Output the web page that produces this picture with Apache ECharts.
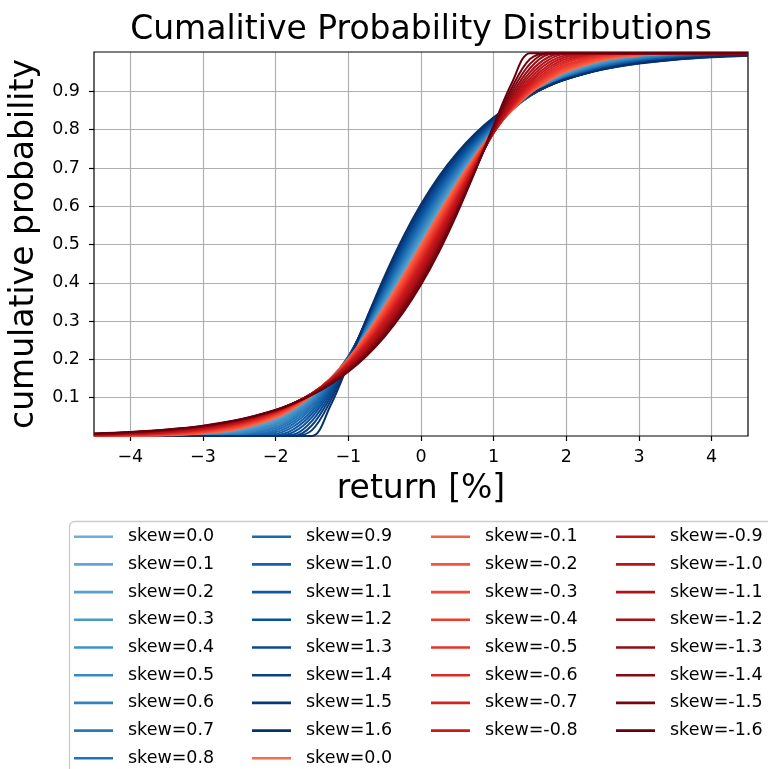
<!DOCTYPE html>
<html>
<head>
<meta charset="utf-8">
<title>Cumalitive Probability Distributions</title>
<script src="https://cdn.jsdelivr.net/npm/echarts@6/dist/echarts.min.js"></script>
<style>
  html, body { margin: 0; padding: 0; background: #fff; }
  #chart { width: 768px; height: 769px; }
</style>
</head>
<body>
<div id="chart"></div>
<script>
// Return grid (percent) shared by every curve
const returnsPct = [-4.5, -4, -3.5, -3, -2.5, -2, -1.75, -1.5, -1.25, -1, -0.75, -0.5, -0.25, 0,
  0.25, 0.5, 0.75, 1, 1.25, 1.5, 1.75, 2, 2.5, 3, 3.5, 4, 4.5];

// Cumulative probability, non-negative skew
const cdfPos00 = [0.0001,0.0004,0.0018,0.0062,0.0186,0.0478,0.0724,0.1056,0.1488,0.2023,0.2660,0.3385,0.4175,0.5000,0.5825,0.6615,0.7340,0.7977,0.8512,0.8944,0.9276,0.9522,0.9814,0.9938,0.9982,0.9996,0.9999];
const cdfPos01 = [0.0000,0.0002,0.0011,0.0047,0.0160,0.0447,0.0697,0.1038,0.1483,0.2037,0.2693,0.3435,0.4237,0.5067,0.5887,0.6666,0.7374,0.7992,0.8510,0.8928,0.9252,0.9494,0.9789,0.9922,0.9975,0.9993,0.9998];
const cdfPos02 = [0.0000,0.0001,0.0006,0.0034,0.0134,0.0413,0.0665,0.1016,0.1476,0.2049,0.2725,0.3485,0.4300,0.5133,0.5949,0.6716,0.7408,0.8008,0.8510,0.8915,0.9230,0.9469,0.9765,0.9906,0.9966,0.9989,0.9997];
const cdfPos03 = [0.0000,0.0000,0.0003,0.0022,0.0108,0.0376,0.0630,0.0990,0.1466,0.2059,0.2757,0.3536,0.4362,0.5199,0.6011,0.6766,0.7441,0.8026,0.8512,0.8905,0.9212,0.9446,0.9743,0.9890,0.9956,0.9984,0.9994];
const cdfPos04 = [0,0,0.0001,0.0012,0.0082,0.0336,0.0591,0.0960,0.1452,0.2068,0.2788,0.3586,0.4425,0.5266,0.6073,0.6816,0.7477,0.8045,0.8516,0.8897,0.9196,0.9425,0.9722,0.9874,0.9946,0.9978,0.9992];
const cdfPos05 = [0,0,0,0.0006,0.0058,0.0294,0.0548,0.0925,0.1435,0.2073,0.2818,0.3637,0.4488,0.5332,0.6134,0.6866,0.7512,0.8064,0.8521,0.8891,0.9182,0.9407,0.9702,0.9858,0.9936,0.9972,0.9988];
const cdfPos06 = [0,0,0,0.0002,0.0036,0.0248,0.0500,0.0885,0.1414,0.2077,0.2848,0.3687,0.4551,0.5398,0.6195,0.6916,0.7548,0.8085,0.8529,0.8888,0.9171,0.9391,0.9683,0.9843,0.9925,0.9965,0.9984];
const cdfPos07 = [0,0,0,0,0.0018,0.0201,0.0446,0.0839,0.1388,0.2078,0.2876,0.3737,0.4614,0.5464,0.6256,0.6966,0.7583,0.8106,0.8537,0.8886,0.9162,0.9377,0.9666,0.9828,0.9914,0.9958,0.9980];
const cdfPos08 = [0,0,0,0,0.0006,0.0151,0.0388,0.0787,0.1357,0.2076,0.2903,0.3787,0.4677,0.5530,0.6316,0.7015,0.7619,0.8128,0.8546,0.8885,0.9154,0.9364,0.9651,0.9814,0.9903,0.9951,0.9975];
const cdfPos09 = [0,0,0,0,0.0001,0.0103,0.0324,0.0727,0.1319,0.2070,0.2929,0.3837,0.4740,0.5596,0.6376,0.7065,0.7655,0.8150,0.8558,0.8886,0.9148,0.9354,0.9636,0.9800,0.9893,0.9943,0.9970];
const cdfPos10 = [0,0,0,0,0,0.0057,0.0255,0.0660,0.1275,0.2061,0.2954,0.3887,0.4803,0.5662,0.6436,0.7114,0.7691,0.8174,0.8569,0.8889,0.9144,0.9345,0.9623,0.9788,0.9882,0.9936,0.9965];
const cdfPos11 = [0,0,0,0,0,0.0019,0.0182,0.0582,0.1223,0.2047,0.2976,0.3936,0.4866,0.5727,0.6495,0.7162,0.7727,0.8197,0.8582,0.8893,0.9141,0.9337,0.9612,0.9776,0.9872,0.9928,0.9960];
const cdfPos12 = [0,0,0,0,0,0,0.0107,0.0495,0.1162,0.2028,0.2998,0.3985,0.4929,0.5793,0.6555,0.7211,0.7764,0.8222,0.8596,0.8898,0.9140,0.9332,0.9601,0.9765,0.9863,0.9921,0.9954];
const cdfPos13 = [0,0,0,0,0,0,0.0037,0.0395,0.1089,0.2004,0.3017,0.4034,0.4993,0.5858,0.6614,0.7259,0.7800,0.8246,0.8610,0.8904,0.9139,0.9327,0.9592,0.9755,0.9854,0.9913,0.9949];
const cdfPos14 = [0,0,0,0,0,0,0,0.0281,0.1004,0.1973,0.3034,0.4083,0.5055,0.5922,0.6672,0.7307,0.7836,0.8271,0.8625,0.8911,0.9140,0.9323,0.9583,0.9745,0.9845,0.9906,0.9943];
const cdfPos15 = [0,0,0,0,0,0,0,0.0153,0.0902,0.1934,0.3049,0.4131,0.5119,0.5987,0.6730,0.7355,0.7872,0.8296,0.8641,0.8919,0.9142,0.9321,0.9576,0.9737,0.9837,0.9899,0.9938];
const cdfPos16 = [0,0,0,0,0,0,0,0,0.0779,0.1886,0.3061,0.4178,0.5182,0.6051,0.6788,0.7402,0.7909,0.8322,0.8657,0.8928,0.9145,0.9320,0.9570,0.9729,0.9829,0.9893,0.9932];

// Cumulative probability, zero and negative skew
const cdfNeg00 = [0.0001,0.0004,0.0018,0.0062,0.0186,0.0478,0.0724,0.1056,0.1488,0.2023,0.2660,0.3385,0.4175,0.5000,0.5825,0.6615,0.7340,0.7977,0.8512,0.8944,0.9276,0.9522,0.9814,0.9938,0.9982,0.9996,0.9999];
const cdfNeg01 = [0.0002,0.0007,0.0025,0.0078,0.0211,0.0506,0.0748,0.1072,0.1490,0.2008,0.2626,0.3334,0.4113,0.4933,0.5763,0.6565,0.7307,0.7963,0.8517,0.8962,0.9303,0.9553,0.9840,0.9953,0.9989,0.9998,1.0000];
const cdfNeg02 = [0.0003,0.0011,0.0034,0.0094,0.0235,0.0531,0.0770,0.1085,0.1490,0.1992,0.2592,0.3284,0.4051,0.4867,0.5700,0.6515,0.7275,0.7951,0.8524,0.8984,0.9335,0.9587,0.9866,0.9966,0.9994,0.9999,1.0000];
const cdfNeg03 = [0.0006,0.0016,0.0044,0.0110,0.0257,0.0554,0.0788,0.1095,0.1488,0.1974,0.2559,0.3234,0.3989,0.4801,0.5638,0.6464,0.7243,0.7941,0.8534,0.9010,0.9370,0.9624,0.9892,0.9978,0.9997,1,1];
const cdfNeg04 = [0.0008,0.0022,0.0054,0.0126,0.0278,0.0575,0.0804,0.1103,0.1484,0.1955,0.2523,0.3184,0.3927,0.4734,0.5575,0.6414,0.7212,0.7932,0.8548,0.9040,0.9409,0.9664,0.9918,0.9988,0.9999,1,1];
const cdfNeg05 = [0.0012,0.0028,0.0064,0.0142,0.0298,0.0593,0.0818,0.1109,0.1479,0.1936,0.2488,0.3134,0.3866,0.4668,0.5512,0.6363,0.7182,0.7927,0.8565,0.9075,0.9452,0.9706,0.9942,0.9994,1,1,1];
const cdfNeg06 = [0.0016,0.0035,0.0075,0.0157,0.0317,0.0609,0.0829,0.1112,0.1471,0.1915,0.2452,0.3084,0.3805,0.4602,0.5449,0.6313,0.7152,0.7923,0.8586,0.9115,0.9500,0.9752,0.9964,0.9998,1,1,1];
const cdfNeg07 = [0.0020,0.0042,0.0086,0.0172,0.0334,0.0623,0.0838,0.1114,0.1463,0.1894,0.2417,0.3034,0.3744,0.4536,0.5386,0.6263,0.7124,0.7922,0.8612,0.9161,0.9554,0.9799,0.9982,1,1,1,1];
const cdfNeg08 = [0.0025,0.0049,0.0097,0.0186,0.0349,0.0636,0.0846,0.1115,0.1454,0.1872,0.2381,0.2985,0.3684,0.4470,0.5323,0.6213,0.7097,0.7924,0.8643,0.9213,0.9612,0.9849,0.9994,1,1,1,1];
const cdfNeg09 = [0.0030,0.0057,0.0107,0.0200,0.0364,0.0646,0.0852,0.1114,0.1442,0.1850,0.2345,0.2935,0.3624,0.4404,0.5260,0.6163,0.7071,0.7930,0.8681,0.9273,0.9676,0.9897,0.9999,1,1,1,1];
const cdfNeg10 = [0.0035,0.0064,0.0118,0.0212,0.0377,0.0655,0.0856,0.1111,0.1431,0.1826,0.2309,0.2886,0.3564,0.4338,0.5197,0.6113,0.7046,0.7939,0.8725,0.9340,0.9745,0.9943,1,1,1,1,1];
const cdfNeg11 = [0.0040,0.0072,0.0128,0.0224,0.0388,0.0663,0.0859,0.1107,0.1418,0.1803,0.2273,0.2838,0.3505,0.4273,0.5134,0.6064,0.7024,0.7953,0.8777,0.9418,0.9818,0.9981,1,1,1,1,1];
const cdfNeg12 = [0.0046,0.0079,0.0137,0.0235,0.0399,0.0668,0.0860,0.1102,0.1404,0.1778,0.2236,0.2789,0.3445,0.4207,0.5071,0.6015,0.7002,0.7972,0.8838,0.9505,0.9893,1,1,1,1,1,1];
const cdfNeg13 = [0.0051,0.0087,0.0146,0.0245,0.0408,0.0673,0.0861,0.1096,0.1390,0.1754,0.2200,0.2741,0.3386,0.4142,0.5007,0.5966,0.6983,0.7996,0.8911,0.9605,0.9963,1,1,1,1,1,1];
const cdfNeg14 = [0.0057,0.0094,0.0155,0.0255,0.0417,0.0677,0.0860,0.1089,0.1375,0.1729,0.2164,0.2693,0.3328,0.4078,0.4945,0.5917,0.6966,0.8027,0.8996,0.9719,1,1,1,1,1,1,1];
const cdfNeg15 = [0.0062,0.0101,0.0163,0.0263,0.0424,0.0679,0.0858,0.1081,0.1359,0.1704,0.2128,0.2645,0.3270,0.4013,0.4881,0.5869,0.6951,0.8066,0.9098,0.9847,1,1,1,1,1,1,1];
const cdfNeg16 = [0.0068,0.0107,0.0171,0.0271,0.0430,0.0680,0.0855,0.1072,0.1343,0.1678,0.2091,0.2598,0.3212,0.3949,0.4818,0.5822,0.6939,0.8114,0.9221,1,1,1,1,1,1,1,1];

const skewPos = ['0.0','0.1','0.2','0.3','0.4','0.5','0.6','0.7','0.8','0.9','1.0','1.1','1.2','1.3','1.4','1.5','1.6'];
const skewNeg = ['0.0','-0.1','-0.2','-0.3','-0.4','-0.5','-0.6','-0.7','-0.8','-0.9','-1.0','-1.1','-1.2','-1.3','-1.4','-1.5','-1.6'];

const xTickValues = [-4, -3, -2, -1, 0, 1, 2, 3, 4];
const yTickValues = [0.1, 0.2, 0.3, 0.4, 0.5, 0.6, 0.7, 0.8, 0.9];

const posCurves = [cdfPos00, cdfPos01, cdfPos02, cdfPos03, cdfPos04, cdfPos05, cdfPos06, cdfPos07, cdfPos08,
  cdfPos09, cdfPos10, cdfPos11, cdfPos12, cdfPos13, cdfPos14, cdfPos15, cdfPos16];
const negCurves = [cdfNeg00, cdfNeg01, cdfNeg02, cdfNeg03, cdfNeg04, cdfNeg05, cdfNeg06, cdfNeg07, cdfNeg08,
  cdfNeg09, cdfNeg10, cdfNeg11, cdfNeg12, cdfNeg13, cdfNeg14, cdfNeg15, cdfNeg16];

// Upper half of the Blues / Reds colour ramps
const BLUES = ['#6baed6', '#4292c6', '#2171b5', '#08519c', '#08306b'];
const REDS = ['#fb6a4a', '#ef3b2c', '#cb181d', '#a50f15', '#67000d'];
function hexRgb(h) { return [1, 3, 5].map(k => parseInt(h.slice(k, k + 2), 16)); }
function ramp(stops, i) {
  const t = i / 4, k = Math.min(3, Math.floor(t)), f = t - k;
  const a = hexRgb(stops[k]), b = hexRgb(stops[k + 1]);
  const c = a.map((v, j) => Math.round(v + (b[j] - v) * f));
  return 'rgb(' + c.join(',') + ')';
}

const FONT = 'DejaVu Sans';
const minus = v => (v < 0 ? '\u2212' + Math.abs(v) : String(v));

function lineSeries(name, values, color) {
  return {
    type: 'line', name, smooth: 0.35, symbol: 'none', showSymbol: false,
    data: returnsPct.map((x, i) => [x, values[i]]),
    lineStyle: { color, width: 2 }, itemStyle: { color },
    emphasis: { disabled: true }
  };
}

const series = [];
const posNames = skewPos.map(s => 'skew=' + s);
// the zero-skew member of the negative family gets a trailing space so both legend entries stay distinct
const negNames = skewNeg.map((s, i) => 'skew=' + s + (i === 0 ? ' ' : ''));
posCurves.forEach((c, i) => series.push(lineSeries(posNames[i], c, ramp(BLUES, i))));
negCurves.forEach((c, i) => series.push(lineSeries(negNames[i], c, ramp(REDS, i))));

function legendColumn(names, left) {
  return {
    orient: 'vertical', left, top: 526.7, padding: 0, itemGap: 7.7,
    itemWidth: 39, itemHeight: 2.6, icon: 'rect', data: names,
    formatter: n => n.trim(),
    textStyle: { fontFamily: FONT, fontSize: 17.5, color: '#000', lineHeight: 20, padding: [0, 0, 0, 10] }
  };
}

const allNames = posNames.concat(negNames);
const option = {
  animation: false,
  backgroundColor: '#fff',
  title: {
    text: 'Cumalitive Probability Distributions', left: 421, top: 14, padding: 0, textAlign: 'center',
    textStyle: { fontFamily: FONT, fontSize: 33, fontWeight: 'normal', color: '#000' }
  },
  grid: { left: 94, right: 20, top: 52, bottom: 333, show: true, z: 3,
    backgroundColor: 'transparent', borderColor: '#000', borderWidth: 1.2 },
  xAxis: {
    type: 'value', min: -4.5, max: 4.5,
    name: 'return [%]', nameLocation: 'middle', nameGap: 37,
    nameTextStyle: { fontFamily: FONT, fontSize: 33, color: '#000' },
    axisLine: { show: false, onZero: false },
    axisTick: { show: true, length: 5, customValues: xTickValues, lineStyle: { color: '#000', width: 1.2 } },
    axisLabel: { customValues: xTickValues, formatter: minus, margin: 12,
      fontFamily: FONT, fontSize: 17.5, color: '#000' },
    splitLine: { show: true, lineStyle: { color: '#b0b0b0', width: 1.2 } }
  },
  yAxis: {
    type: 'value', min: 0, max: 1.003,
    name: 'cumulative probability', nameLocation: 'middle', nameGap: 49,
    nameTextStyle: { fontFamily: FONT, fontSize: 33, color: '#000' },
    axisLine: { show: false, onZero: false },
    axisTick: { show: true, length: 5, customValues: yTickValues, lineStyle: { color: '#000', width: 1.2 } },
    axisLabel: { customValues: yTickValues, formatter: v => v.toFixed(1), margin: 14,
      fontFamily: FONT, fontSize: 17.5, color: '#000' },
    splitLine: { show: true, lineStyle: { color: '#b0b0b0', width: 1.2 } }
  },
  legend: [
    legendColumn(allNames.slice(0, 9), 74),
    legendColumn(allNames.slice(9, 18), 252),
    legendColumn(allNames.slice(18, 26), 431),
    legendColumn(allNames.slice(26, 34), 616)
  ],
  graphic: [{
    type: 'rect', z: 1, silent: true,
    shape: { x: 69.5, y: 521.5, width: 740, height: 300, r: 5 },
    style: { fill: '#fff', stroke: '#cccccc', lineWidth: 1.3 }
  }],
  series
};

const chart = echarts.init(document.getElementById('chart'), null, { renderer: 'canvas' });
chart.setOption(option);
</script>
</body>
</html>
